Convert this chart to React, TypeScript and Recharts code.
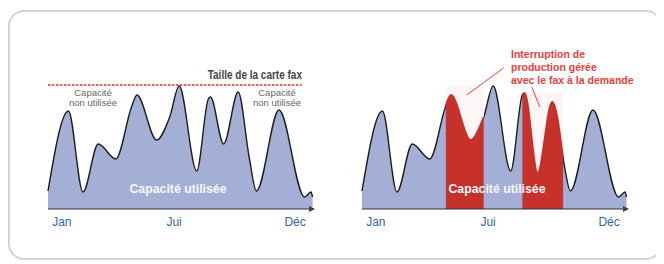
import React from "react";
import { ComposedChart, Area, XAxis, YAxis, ReferenceLine } from "recharts";

// jour de l'année / capacité utilisée (hauteur relative, la carte fax = 124)
const jours = [0, 28, 48, 69, 93, 115, 122, 149, 167, 180, 204, 220, 223, 241, 261, 276, 286, 317, 352, 361, 363];
const capacite = [18, 98, 17, 65, 50, 103, 114, 69, 92, 123, 38, 110, 112, 65, 117, 52, 18, 99, 12, 17, 12];
// courbe de droite : même année, seconde interruption plus creusée
const capaciteDroite = [18, 98, 17, 65, 50, 103, 114, 69, 92, 123, 38, 114, 116, 36, 107, 50, 18, 99, 12, 17, 12];

const tailleCarteFax = 124;
const finLigneFax = 348;

const tickJours = [19, 173, 339];
const tickLabels = ["Jan", "Jui", "Déc"];

// périodes d'interruption gérées par le fax à la demande
const periodes = [
  [115, 167],
  [220, 276],
];
const hautPeriode = [123, 118];

const fleches = [
  [{ x: 194, y: 141 }, { x: 144, y: 114 }],
  [{ x: 233, y: 122 }, { x: 244, y: 102 }],
];

const dataGauche = jours.map((j, i) => ({ jour: j, capacite: capacite[i] }));
const dataDroite = jours.map((j, i) => {
  const row: Record<string, number | null> = { jour: j, capacite: capaciteDroite[i] };
  periodes.forEach(([a, b], k) => {
    row[`p${k}`] = j >= a && j <= b ? capaciteDroite[i] : null;
  });
  return row;
});

const BLEU = "#a3afd4";
const ROUGE = "#c7312c";
const FONT = "'Liberation Sans', Arial, sans-serif";

function Fleches({ id }: { id: string }) {
  return (
    <defs>
      <marker id={`${id}-x`} viewBox="0 0 6 6" refX="5" refY="3" markerWidth="6" markerHeight="6"
        markerUnits="userSpaceOnUse" orient="auto-start-reverse">
        <path d="M0,0 L6,3 L0,6 z" fill="#444" />
      </marker>
      <marker id={`${id}-y`} viewBox="0 0 6 6" refX="5" refY="3" markerWidth="6" markerHeight="6"
        markerUnits="userSpaceOnUse" orient="auto-start-reverse">
        <path d="M0,0 L6,3 L0,6 z" fill="#999" />
      </marker>
    </defs>
  );
}

const xAxisProps = (id: string) => ({
  dataKey: "jour",
  type: "number" as const,
  domain: [0, 365],
  ticks: tickJours,
  tickFormatter: (v: number) => tickLabels[tickJours.indexOf(v)] ?? "",
  tickLine: false,
  height: 30,
  axisLine: { stroke: "#333", strokeWidth: 1.2, markerEnd: `url(#${id}-x)` },
  tick: { fill: "#2f67a5", fontSize: 12, fontFamily: FONT },
});

const yAxisProps = (id: string) => ({
  type: "number" as const,
  domain: [0, 140],
  tick: false,
  tickLine: false,
  width: 0,
  axisLine: { stroke: "#999", strokeWidth: 1, markerStart: `url(#${id}-y)` },
});

const txt: React.CSSProperties = { position: "absolute", fontFamily: FONT, whiteSpace: "nowrap" };

export default function App() {
  return (
    <div style={{ position: "relative", width: 648, height: 256 }}>
      <div
        style={{
          position: "absolute", left: 0, top: 2, width: 654, height: 250, boxSizing: "border-box",
          border: "2px solid #d3d3d3", borderRadius: 16, background: "#fff",
        }}
      />
      <div style={{ position: "absolute", left: 0, top: 0 }}>
        <ComposedChart width={320} height={240} data={dataGauche} margin={{ top: 61, right: 14, bottom: 9, left: 40 }}>
          <Fleches id="g" />
          <XAxis {...xAxisProps("g")} />
          <YAxis {...yAxisProps("g")} />
          <Area type="monotone" dataKey="capacite" fill={BLEU} fillOpacity={1} stroke="#1d1d1d" strokeWidth={1.4}
            dot={false} activeDot={false} isAnimationActive={false} />
          <ReferenceLine segment={[{ x: 0, y: tailleCarteFax }, { x: finLigneFax, y: tailleCarteFax }]}
            stroke="#e0312b" strokeWidth={1.6} strokeDasharray="2.5 1.5" ifOverflow="visible" />
        </ComposedChart>
      </div>
      <div style={{ position: "absolute", left: 320, top: 0 }}>
        <ComposedChart width={320} height={240} data={dataDroite} margin={{ top: 61, right: 20, bottom: 9, left: 34 }}>
          <Fleches id="d" />
          <XAxis {...xAxisProps("d")} />
          <YAxis {...yAxisProps("d")} />
          <Area type="monotone" dataKey="capacite" fill={BLEU} fillOpacity={1} stroke="#1d1d1d" strokeWidth={1.4}
            dot={false} activeDot={false} isAnimationActive={false} />
          {periodes.map((_, k) => (
            <Area key={`h${k}`} type="monotone" dataKey={`p${k}`} baseValue={hautPeriode[k]} fill="#fdf6f6"
              fillOpacity={1} stroke="none" dot={false} activeDot={false} isAnimationActive={false} />
          ))}
          {periodes.map((_, k) => (
            <Area key={`r${k}`} type="monotone" dataKey={`p${k}`} fill={ROUGE} fillOpacity={1} stroke={ROUGE}
              strokeWidth={2} dot={false} activeDot={false} isAnimationActive={false} />
          ))}
          {fleches.map((s, k) => (
            <ReferenceLine key={k} segment={s} stroke="#e0443c" strokeWidth={1} ifOverflow="visible" />
          ))}
        </ComposedChart>
      </div>

      <div style={{ ...txt, left: 0, width: 294, top: 60, lineHeight: "14px", textAlign: "right", fontSize: 12.5,
        fontWeight: 700, color: "#454545", transform: "scaleX(0.8)", transformOrigin: "294px 7px" }}>
        Taille de la carte fax
      </div>
      <div style={{ ...txt, left: 45, width: 80, top: 80, lineHeight: "10px", textAlign: "center", fontSize: 9.5, color: "#666" }}>
        Capacité<br />non utilisée
      </div>
      <div style={{ ...txt, left: 229, width: 80, top: 80, lineHeight: "10px", textAlign: "center", fontSize: 9.5, color: "#666" }}>
        Capacité<br />non utilisée
      </div>
      <div style={{ ...txt, left: 100, width: 140, top: 174, lineHeight: "14px", textAlign: "center", fontSize: 12.3,
        fontWeight: 700, color: "#f6f7fc" }}>
        Capacité utilisée
      </div>
      <div style={{ ...txt, left: 419, width: 140, top: 174, lineHeight: "14px", textAlign: "center", fontSize: 12.3,
        fontWeight: 700, color: "#f6f7fc" }}>
        Capacité utilisée
      </div>
      <div style={{ ...txt, left: 503, top: 40, lineHeight: "12.8px", fontSize: 10.5, fontWeight: 700, color: "#e8403a" }}>
        Interruption de<br />production gérée<br />avec le fax à la demande
      </div>
    </div>
  );
}
